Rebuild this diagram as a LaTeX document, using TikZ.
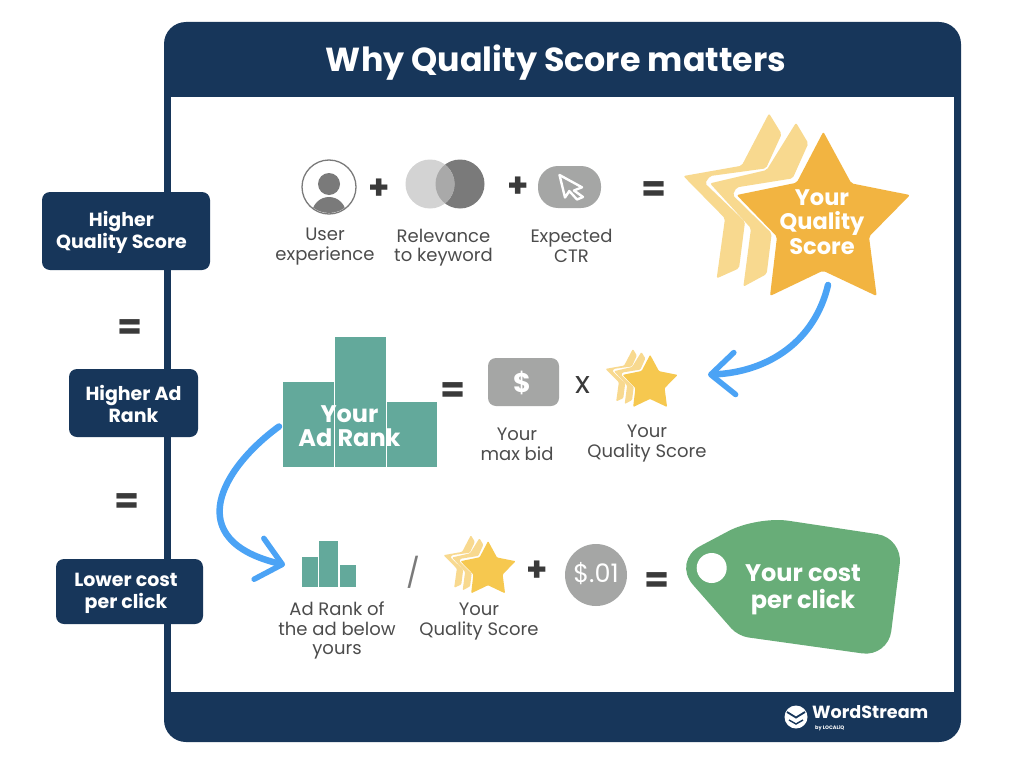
\documentclass[tikz,border=0pt]{standalone}
\usepackage{fontspec}
\setmainfont{Poppins}
\usepackage{xcolor}
\usetikzlibrary{positioning,calc,arrows.meta}

\definecolor{navy}{HTML}{17365A}
\definecolor{textgrey}{HTML}{4C4C4C}
\definecolor{signgrey}{HTML}{3A3A3A}
\definecolor{icongrey}{HTML}{A5A6A5}
\definecolor{darkgrey}{HTML}{7A7A7A}
\definecolor{lightgrey}{HTML}{D3D3D3}
\definecolor{midgrey}{HTML}{A9A9A9}
\definecolor{arrowblue}{HTML}{4BA3F5}
\definecolor{rankgreen}{HTML}{63A99B}
\definecolor{taggreen}{HTML}{68AD78}
\definecolor{stargold}{HTML}{F2B441}
\definecolor{staryellow}{HTML}{F6C84F}
\definecolor{starpale}{HTML}{F8D98F}

\tikzset{
    sidebox/.style={fill=navy, rounded corners=8pt, inner sep=0pt},
    sidetext/.style={text=white, align=center, inner sep=0pt,
        font=\fontsize{19}{22.5}\selectfont\bfseries},
    caption/.style={text=textgrey, align=center, inner sep=0pt, font=\fontsize{18}{19.5}\selectfont},
    sign/.style={text=signgrey, inner sep=0pt, font=\fontsize{#1}{#1}\selectfont\bfseries},
    sign/.default=36,
    rankbar/.style={fill=rankgreen, inner sep=0pt, outer sep=0pt},
    onshape/.style={text=white, align=center, inner sep=0pt, font=\fontsize{#1}{#1}\selectfont\bfseries},
    flow/.style={arrowblue, line width=6.5pt, line cap=round,
        -{Straight Barb[length=24pt, width=42pt, line width=5.5pt, round]}},
    pics/qualitystar/.style n args={3}{code={
        \begin{scope}[scale=#1]
            % Two stars behind, cut off along the one in front
            \fill[starpale, rounded corners=#2]
                (-162,-328) -- (-124,-266) -- (-171,-163) -- (-339,-140) -- (-354,-118)
                -- (-234,-3) -- (-252,137) -- (-319,167) -- (-294,-13) -- (-419,-140)
                -- (-244,-171) -- cycle;
            \fill[starpale, rounded corners=#2]
                (-81,-300) -- (-44,-238) -- (-91,-133) -- (-259,-106) -- (-271,-83)
                -- (-154,32) -- (-169,154) -- (-239,192) -- (-216,17) -- (-339,-118)
                -- (-169,-158) -- cycle;
            \fill[#3, rounded corners=#2]
                (1,-273) -- (85,-118) -- (261,-83) -- (138,42) -- (161,220) -- (0,144)
                -- (-159,220) -- (-138,42) -- (-259,-83) -- (-79,-120) -- cycle;
        \end{scope}
    }},
}

\begin{document}
\begin{tikzpicture}[x=1pt, y=-1pt]
    \useasboundingbox (0,0) rectangle (1024,757);

    % Frame
    \fill[navy, rounded corners=22pt] (164,22) rectangle (961,742);
    \fill[white] (170.5,97) rectangle (954,692);
    \node[onshape=33.3] (title) at (556,63) {Why Quality Score matters};

    % Left column
    \node[sidebox, minimum width=168pt, minimum height=78pt] (higherqs) at (126,231) {};
    \node[sidetext] (higherqstext) at (121.5,232.5) {Higher\\Quality Score};
    \node[sign] (eqleft) at (130,329.5) {=};
    \node[sidebox, minimum width=129pt, minimum height=68pt] (higherad) at (133.5,403) {};
    \node[sidetext] (higheradtext) at (133.5,404) {Higher Ad\\Rank};
    \node[sign] (eqlefttwo) at (127,503.5) {=};
    \node[sidebox, minimum width=147pt, minimum height=65pt] (lowercost) at (129.5,591.5) {};
    \node[sidetext] (lowercosttext) at (126,593.5) {Lower cost\\per click};

    % First row: user experience
    \node[circle, draw=darkgrey, line width=1.3pt, minimum size=54pt, inner sep=0pt] (user) at (329,187) {};
    \begin{scope}
        \clip (329,187) circle (26);
        \fill[darkgrey] (329,214) ellipse (17 and 17);
    \end{scope}
    \fill[darkgrey] (329,184) circle (11);
    \node[caption, below=41pt of user.center, xshift=-4pt, anchor=north] (userlabel) {User\\experience};
    \node[sign=34] (plusa) at (379,189.5) {+};

    % First row: relevance
    \node[circle, fill=darkgrey, minimum size=49pt, inner sep=0pt] (vennb) at (460,184) {};
    \node[circle, fill=lightgrey, minimum size=49pt, inner sep=0pt] (venna) at (430,184) {};
    \begin{scope}
        \clip (430,184) circle (24.5);
        \fill[midgrey] (460,184) circle (24.5);
    \end{scope}
    \node[caption] (vennlabel) at (443.5,247.5) {Relevance\\to keyword};
    \node[sign=34] (plusb) at (518,187.5) {+};

    % First row: expected CTR
    \node[fill=icongrey, rounded corners=20pt, minimum width=63pt, minimum height=42pt, inner sep=0pt] (ctr) at (569.5,187) {};
    \draw[white, line width=2.4pt, line join=round]
        (559.5,175) -- (582,187.3) -- (574,190.5) -- (583,197) -- (577,199.5) -- (569.3,191) -- (565,197.5) -- cycle;
    \node[caption] (ctrlabel) at (571.5,246) {Expected\\CTR};
    \node[sign] (eqa) at (654,191.5) {=};

    % Big star
    \pic at (823,222.7) {qualitystar={.3333}{2pt}{stargold}};
    \node[onshape=22.5, font=\fontsize{22.5}{24.5}\selectfont\bfseries] (bigstar) at (822,222) {Your\\Quality\\Score};

    % Second row: ad rank
    \node[rankbar, minimum width=51pt, minimum height=85pt] (rankleft) at (308.5,424.5) {};
    \node[rankbar, minimum width=51pt, minimum height=130pt] (rankmid) at (360.5,402) {};
    \node[rankbar, minimum width=50pt, minimum height=65pt] (rankright) at (412,434.5) {};
    \node[onshape=24] (ranktext) at (349.5,426) {Your\\Ad Rank};
    \node[sign] (eqb) at (453,392.5) {=};

    % Second row: bid and small star
    \node[fill=icongrey, rounded corners=8pt, minimum width=71pt, minimum height=48pt, inner sep=0pt] (bid) at (523.5,382) {};
    \node[onshape=27] (dollar) at (522,383) {\$};
    \node[caption] (bidlabel) at (517,444.5) {Your\\max bid};
    \node[text=signgrey, inner sep=0pt, font=\fontsize{31}{31}\selectfont] (times) at (583,385) {x};
    \pic at (650,383.7) {qualitystar={.106}{1pt}{staryellow}};
    \coordinate (starone) at (650,383.7);
    \node[caption] (staronelabel) at (647,443.5) {Your\\Quality Score};

    % Third row
    \node[rankbar, minimum width=16pt, minimum height=30pt] (smallleft) at (310,572) {};
    \node[rankbar, minimum width=19pt, minimum height=46pt] (smallmid) at (328.5,564) {};
    \node[rankbar, minimum width=16pt, minimum height=22pt] (smallright) at (348,576) {};
    \node[caption] (smalllabel) at (337,630.5) {Ad Rank of\\the ad below\\yours};
    \node[text=darkgrey, inner sep=0pt, font=\fontsize{29}{29}\selectfont] (slash) at (413,572) {/};
    \pic at (488,570) {qualitystar={.106}{1pt}{staryellow}};
    \node[caption] (startwolabel) at (479,621.5) {Your\\Quality Score};
    \node[sign=34] (plusc) at (537,571.5) {+};
    \node[circle, fill=icongrey, minimum size=62pt, inner sep=0pt] (cent) at (596,575) {};
    \node[text=white, inner sep=0pt, font=\fontsize{25.5}{25.5}\selectfont] (centtext) at (596,573.5) {\$.01};
    \node[sign] (eqc) at (657,582.5) {=};

    % Price tag
    \fill[taggreen] (672,561) [rounded corners=32pt] -- (757,516) [rounded corners=26pt] -- (903,538) -- (888,657)
        [rounded corners=10pt] -- (738,636) [rounded corners=32pt] -- cycle;
    \fill[white] (711.7,568) circle (15);
    \node[onshape=24, font=\fontsize{24}{27}\selectfont\bfseries] (tagtext) at (803,590) {Your cost\\per click};

    % Logo
    \node[circle, fill=white, minimum size=23pt, inner sep=0pt] (logo) at (796,717) {};
    \draw[navy, line width=1.8pt] (787,712) -- (796,717.5) -- (805,712);
    \draw[navy, line width=1.4pt] (789,720) -- (796,724) -- (803,720);
    \node[onshape=17.6, anchor=west] (wordstream) at (812,712.5) {WordStream};
    \node[onshape=5, anchor=west] (localiq) at (815,728) {by LOCALiQ};

    % Arrows
    \draw[flow] ([shift={(6,63)}]bigstar.center) .. controls (815,340) and (770,372) .. ([shift={(58,-9)}]starone);
    \draw[flow] (rankleft.west) ++(-4,2) .. controls (222,468) and (180,540) .. ([shift={(-25,-7)}]smallleft.center);
\end{tikzpicture}
\end{document}
